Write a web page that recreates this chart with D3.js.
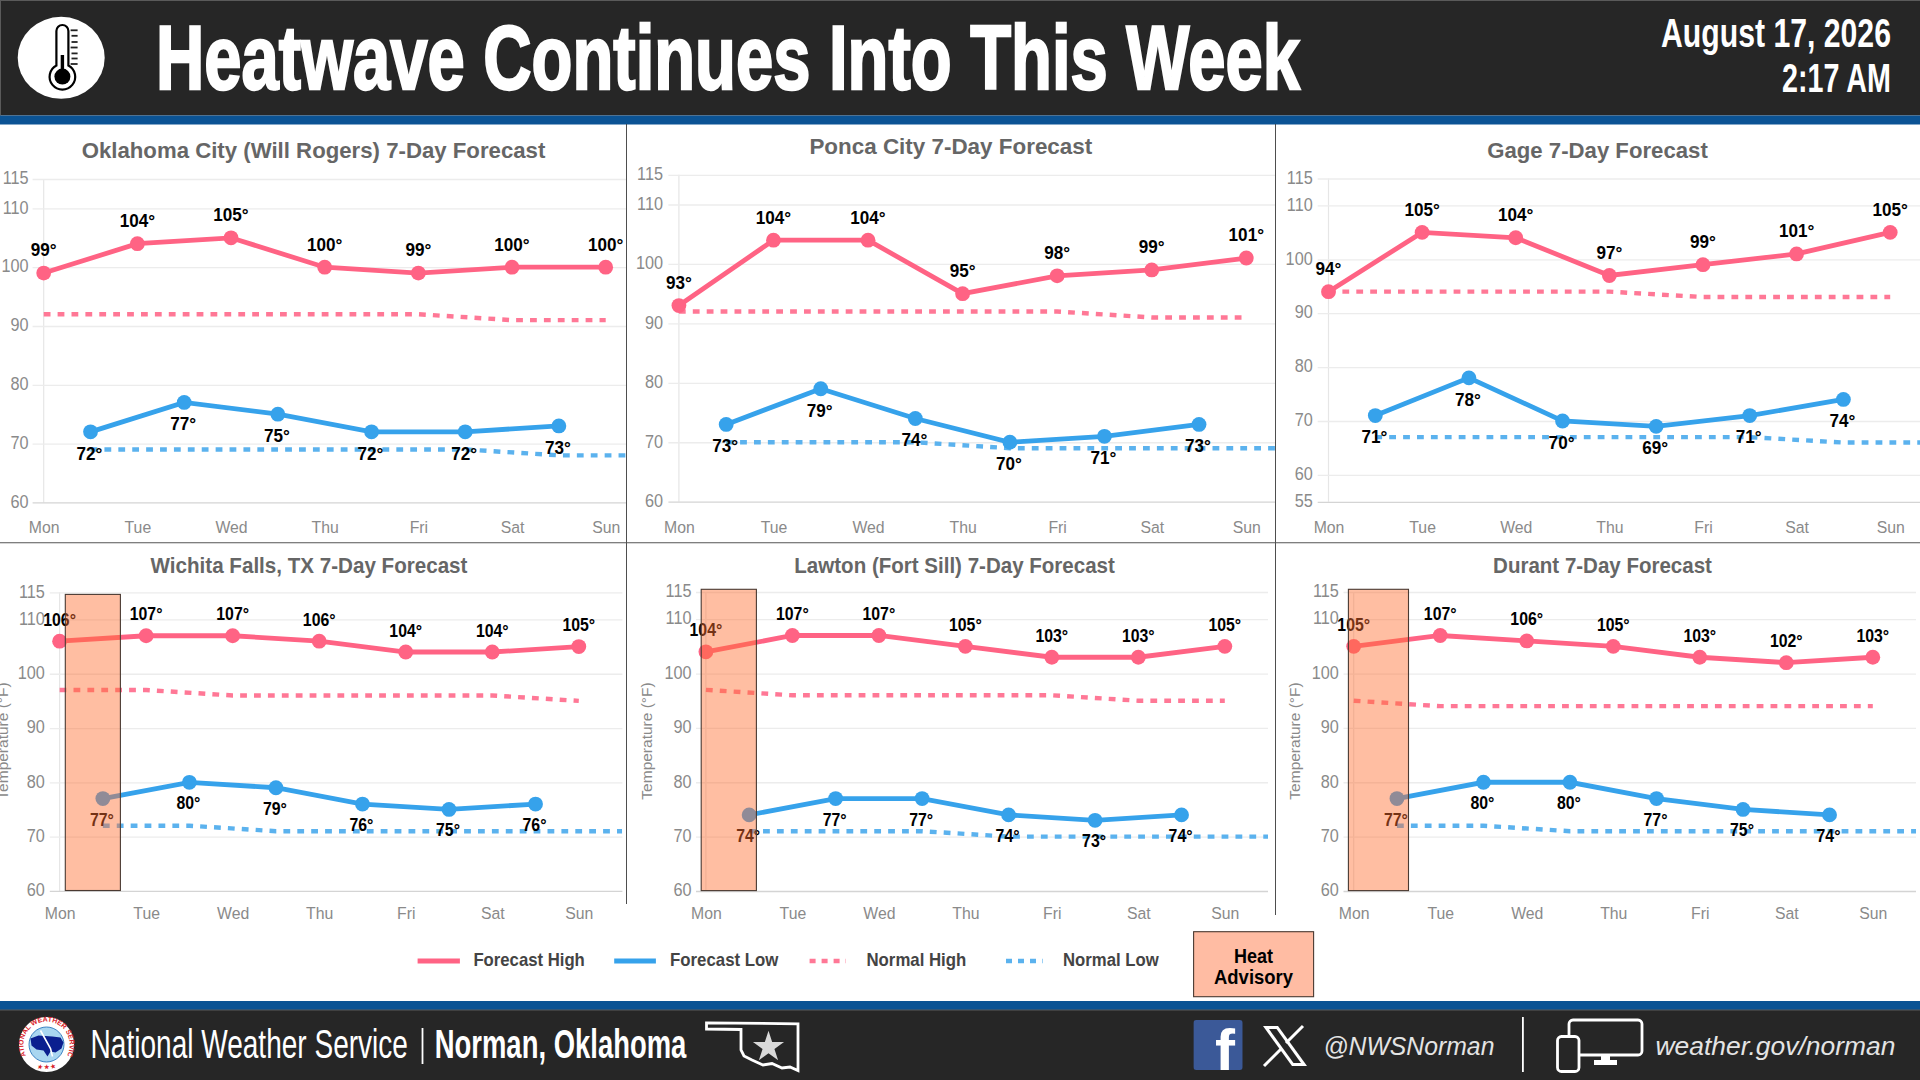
<!DOCTYPE html>
<html>
<head>
<meta charset="utf-8">
<script src="https://cdn.jsdelivr.net/npm/d3@7"></script>
<style>
html,body{margin:0;padding:0;background:#fff;overflow:hidden}
svg{display:block}
text{font-family:"Liberation Sans",Arial,sans-serif}
</style>
</head>
<body>
<svg id="c" width="1920" height="1080"></svg>
<script>
// ---------- data ----------
const days = ["Mon","Tue","Wed","Thu","Fri","Sat","Sun"];
const cities = [
  "Oklahoma City (Will Rogers) 7-Day Forecast",
  "Ponca City 7-Day Forecast",
  "Gage 7-Day Forecast",
  "Wichita Falls, TX 7-Day Forecast",
  "Lawton (Fort Sill) 7-Day Forecast",
  "Durant 7-Day Forecast"
];
const forecastHighs = [
  [99,104,105,100,99,100,100],
  [93,104,104,95,98,99,101],
  [94,105,104,97,99,101,105],
  [106,107,107,106,104,104,105],
  [104,107,107,105,103,103,105],
  [105,107,106,105,103,102,103]
];
const forecastLows = [
  [72,77,75,72,72,73],
  [73,79,74,70,71,73],
  [71,78,70,69,71,74],
  [77,80,79,76,75,76],
  [74,77,77,74,73,74],
  [77,80,80,77,75,74]
];
const normalHighs = [
  [92,92,92,92,92,91,91],
  [92,92,92,92,92,91,91],
  [94,94,94,94,93,93,93],
  [97,97,96,96,96,96,95],
  [97,96,96,96,96,95,95],
  [95,94,94,94,94,94,94]
];
const normalLows = [
  [69,69,69,69,69,68,68],
  [70,70,70,69,69,69,69],
  [67,67,67,67,67,66,66],
  [72,72,71,71,71,71,71],
  [71,71,71,70,70,70,70],
  [72,72,71,71,71,71,71]
];
const yTicksByPanel = [
  [60,70,80,90,100,110,115],
  [60,70,80,90,100,110,115],
  [55,60,70,80,90,100,110,115],
  [60,70,80,90,100,110,115],
  [60,70,80,90,100,110,115],
  [60,70,80,90,100,110,115]
];
const legendNames = ["Forecast High","Forecast Low","Normal High","Normal Low"];

// ---------- layout ----------
const HIGH="rgb(255,99,132)", LOW="rgb(54,162,235)";
const layout = [
 {x0:43.7, x1:605.7, clipL:0, clipR:626, yb:502.4, yt:179, dMin:60, tickL:32.6, labR:28.6, gridR:626, tx:313.5, tw:464, ty:149.5, xy:526.5, up:-23.5, dn:21, lf:19, k:0.9},
 {x0:678.9,x1:1246.3,clipL:627,clipR:1275,yb:501.7,yt:174.8,dMin:60, tickL:668.4,labR:663, gridR:1275,tx:950.8,tw:283,ty:145.5, xy:526.5, up:-23.5, dn:21, lf:19, k:0.9},
 {x0:1328.5,x1:1890.2,clipL:1276,clipR:1920,yb:501.8,yt:178.5,dMin:55,tickL:1317.7,labR:1312.7,gridR:1920,tx:1597.5,tw:220.6,ty:149.5,xy:526.5, up:-23.5, dn:21, lf:19, k:0.9},
 {x0:59.6, x1:578.8, clipL:0, clipR:622.4, yb:890.9, yt:592.3, dMin:60, tickL:49.8, labR:44.9, gridR:622.4, tx:309, tw:317, ty:565, xy:913, up:-22, dn:20.5, lf:18, k:0.88, heat:[65.3,120.4,594.4], tempX:2},
 {x0:705.9,x1:1224.8,clipL:627,clipR:1268,yb:891,yt:592,dMin:60, tickL:696,labR:691.5,gridR:1268,tx:954.6,tw:320.7,ty:565,xy:913, up:-22, dn:20.5, lf:18, k:0.88, heat:[701.2,756.4,589.3], tempX:646},
 {x0:1353.7,x1:1872.8,clipL:1276,clipR:1916,yb:891,yt:592,dMin:60, tickL:1343.5,labR:1338.8,gridR:1916,tx:1602.5,tw:219,ty:565,xy:913, up:-22, dn:20.5, lf:18, k:0.88, heat:[1348.4,1408.5,589.3], tempX:1294}
];

const svg = d3.select("#c");
const defs = svg.append("defs");

// squeeze a text horizontally so it spans exactly w pixels, anchored at x
function fit(sel,x,w){
  const n = sel.node().getComputedTextLength();
  sel.attr("x",0).attr("transform",`translate(${x},0) scale(${w/n},1)`);
  return sel;
}

// ---------- page frames ----------
svg.append("rect").attr("width",1920).attr("height",1080).attr("fill","#fff");
svg.append("rect").attr("width",1920).attr("height",115.5).attr("fill","#262626");
svg.append("rect").attr("width",1920).attr("height",1).attr("fill","#5a5a5a");
svg.append("rect").attr("width",1).attr("height",115.5).attr("fill","#5a5a5a");
svg.append("rect").attr("y",115.5).attr("width",1920).attr("height",9).attr("fill","#0b5394");
svg.append("rect").attr("y",1001).attr("width",1920).attr("height",9).attr("fill","#0b5394");
svg.append("rect").attr("y",1010).attr("width",1920).attr("height",70).attr("fill","#262626");
svg.append("rect").attr("y",1009.5).attr("width",1920).attr("height",1).attr("fill","#5a5a5a");

// ---------- panels ----------
layout.forEach((p,i)=>{
  const g = svg.append("g").attr("class","panel");
  const x = d3.scalePoint().domain(days).range([p.x0,p.x1]);
  const step = x.step();
  const y = d3.scaleLinear().domain([p.dMin,115]).range([p.yb,p.yt]);
  const xLow = idx => x(days[0]) + step*(idx+0.5);

  // title
  const t = g.append("text").attr("y",p.ty).attr("dy","0.36em")
    .attr("text-anchor","middle").attr("font-size",22.5).attr("font-weight",700).attr("fill","#666").text(cities[i]);
  fit(t,p.tx,p.tw);

  // y axis with grid
  const yAxis = d3.axisLeft(y).tickValues(yTicksByPanel[i]).tickFormat(d3.format("d"));
  const ya = g.append("g").attr("transform",`translate(${p.x0},0)`).call(yAxis);
  ya.select(".domain").attr("d",`M0,${y(115)}V${y(p.dMin)}`).attr("stroke","#e6e6e6").attr("stroke-width",1.2).attr("fill","none");
  ya.selectAll(".tick line").attr("x1",p.tickL-p.x0).attr("x2",p.gridR-p.x0)
    .attr("stroke",d=>d===p.dMin?"#d4d4d4":"#ececec").attr("stroke-width",1.3);
  ya.selectAll(".tick text").attr("x",(p.labR-p.x0)/0.93).attr("transform","scale(0.93,1)").attr("dy","0.27em").attr("font-size",17.5)
    .attr("fill","#8a8a8a").attr("font-family",'"Liberation Sans",Arial,sans-serif');

  // x axis labels
  const xAxis = d3.axisBottom(x).tickSize(0);
  const xa = g.append("g").attr("transform",`translate(0,${p.xy})`).call(xAxis);
  xa.select(".domain").remove();
  xa.selectAll(".tick text").attr("y",0).attr("dy","0.36em").attr("font-size",17).attr("transform","scale(0.93,1)")
    .attr("fill","#8a8a8a").attr("font-family",'"Liberation Sans",Arial,sans-serif');

  if(p.tempX!==undefined){
    g.append("text").attr("transform",`translate(${p.tempX},741) rotate(-90)`).attr("dy","0.36em")
      .attr("text-anchor","middle").attr("font-size",15.5).attr("fill","#8a8a8a").text("Temperature (°F)");
  }

  // clip
  const cid="clip"+i;
  defs.append("clipPath").attr("id",cid).append("rect")
    .attr("x",p.clipL).attr("y",100).attr("width",p.clipR-p.clipL).attr("height",900);
  const m = g.append("g").attr("clip-path",`url(#${cid})`);

  const lineHigh = d3.line().x((d,k)=>x(days[k])).y(d=>y(d));
  const lineLow = d3.line().x((d,k)=>xLow(k)).y(d=>y(d));

  m.append("path").attr("d",lineHigh(normalHighs[i])).attr("fill","none").attr("stroke","#ff7896")
    .attr("stroke-width",4.4).attr("stroke-dasharray","6.8,7.1");
  m.append("path").attr("d",lineLow(normalLows[i])).attr("fill","none").attr("stroke","#5bb2ee")
    .attr("stroke-width",4.4).attr("stroke-dasharray","6.8,7.1");

  m.append("path").attr("d",lineHigh(forecastHighs[i])).attr("fill","none").attr("stroke",HIGH).attr("stroke-width",4.8);
  m.append("path").attr("d",lineLow(forecastLows[i])).attr("fill","none").attr("stroke",LOW).attr("stroke-width",4.8);

  m.selectAll(".ph").data(forecastHighs[i]).join("circle").attr("class","ph")
    .attr("cx",(d,k)=>x(days[k])).attr("cy",d=>y(d)).attr("r",7.4).attr("fill",HIGH);
  m.selectAll(".pl").data(forecastLows[i]).join("circle").attr("class","pl")
    .attr("cx",(d,k)=>xLow(k)).attr("cy",d=>y(d)).attr("r",7.4).attr("fill",LOW);

  g.selectAll(".lh").data(forecastHighs[i]).join("text").attr("class","lh")
    .attr("transform",(d,k)=>`translate(${x(days[k])},${y(d)+p.up}) scale(${p.k},1)`).attr("dy","0.36em")
    .attr("text-anchor","middle").attr("font-size",p.lf).attr("font-weight",700).attr("fill","#000")
    .text(d=>d+"°");
  g.selectAll(".ll").data(forecastLows[i]).join("text").attr("class","ll")
    .attr("transform",(d,k)=>`translate(${xLow(k)-1},${y(d)+p.dn}) scale(${p.k},1)`).attr("dy","0.36em")
    .attr("text-anchor","middle").attr("font-size",p.lf).attr("font-weight",700).attr("fill","#000")
    .text(d=>d+"°");

  // heat advisory box
  if(p.heat){
    g.append("rect").attr("x",p.heat[0]).attr("y",p.heat[2])
      .attr("width",p.heat[1]-p.heat[0]).attr("height",y(60)-p.heat[2]-0.4)
      .attr("fill","rgb(255,111,49)").attr("fill-opacity",0.45).attr("stroke","none");
    g.append("rect").attr("x",p.heat[0]).attr("y",p.heat[2])
      .attr("width",p.heat[1]-p.heat[0]).attr("height",y(60)-p.heat[2]-0.4)
      .attr("fill","none").attr("stroke","#4a3a32").attr("stroke-width",1.1);
  }
});

// dividers
const divs=[[626.5,124,904],[1275.5,124,915]];
divs.forEach(d=>svg.append("line").attr("x1",d[0]).attr("x2",d[0]).attr("y1",d[1]).attr("y2",d[2]).attr("stroke","#3a3a3a").attr("stroke-width",0.9));
svg.append("line").attr("x1",0).attr("x2",1920).attr("y1",542.7).attr("y2",542.7).attr("stroke","#555").attr("stroke-width",1.1);

// ---------- legend ----------
const legendLay=[
 {lx:[417.6,459.9],tx:473.4,tw:111.5,c:HIGH,dash:null},
 {lx:[614.2,655.9],tx:670,tw:108.5,c:LOW,dash:null},
 {lx:[809.6,846],tx:866.5,tw:99.8,c:"#ff7896",dash:"6,6"},
 {lx:[1006,1042.6],tx:1063,tw:95.8,c:"#5bb2ee",dash:"6,6"}
];
legendNames.forEach((n,i)=>{
  const l=legendLay[i];
  svg.append("line").attr("x1",l.lx[0]).attr("x2",l.lx[1]).attr("y1",961).attr("y2",961)
    .attr("stroke",l.c).attr("stroke-width",l.dash?4.4:4.8).attr("stroke-dasharray",l.dash);
  const t=svg.append("text").attr("y",960).attr("dy","0.36em").attr("font-size",18).attr("font-weight",700)
    .attr("fill","#444").text(n);
  fit(t,l.tx,l.tw);
});
svg.append("rect").attr("x",1193.6).attr("y",931.7).attr("width",120).attr("height",65)
  .attr("fill","#ffbca3").attr("stroke","#4a3a32").attr("stroke-width",1.1);
fit(svg.append("text").attr("y",955.5).attr("dy","0.36em").attr("text-anchor","middle")
  .attr("font-size",20).attr("font-weight",700).attr("fill","#000").text("Heat"),1253.5,39);
fit(svg.append("text").attr("y",977).attr("dy","0.36em").attr("text-anchor","middle")
  .attr("font-size",20).attr("font-weight",700).attr("fill","#000").text("Advisory"),1253.5,79);

// ---------- header ----------
const NARROW='"Liberation Sans Narrow","Liberation Sans",Arial,sans-serif';
fit(svg.append("text").attr("y",89).attr("font-family",NARROW).attr("font-weight",700)
  .attr("font-size",90).attr("fill","#fff").attr("stroke","#fff").attr("stroke-width",2.4)
  .text("Heatwave Continues Into This Week"),156,1144);
fit(svg.append("text").attr("y",46.7).attr("font-family",NARROW).attr("font-weight",700)
  .attr("font-size",41).attr("fill","#fff").text("August 17, 2026"),1661,230);
fit(svg.append("text").attr("y",92.3).attr("font-family",NARROW).attr("font-weight",700)
  .attr("font-size",41).attr("fill","#fff").text("2:17 AM"),1782,109);

// thermometer icon
const ic=svg.append("g");
ic.append("ellipse").attr("cx",61.2).attr("cy",57.8).attr("rx",43.5).attr("ry",41).attr("fill","#fff");
ic.append("path").attr("d","M56.4,31 a6,6 0 0 1 12,0 V65.5 a12.8,12.8 0 1 1 -12,0 Z")
  .attr("fill","#fff").attr("stroke","#000").attr("stroke-width",2.2);
ic.append("circle").attr("cx",62.4).attr("cy",76.6).attr("r",8).attr("fill","#000");
ic.append("rect").attr("x",60.7).attr("y",55).attr("width",3.4).attr("height",18).attr("fill","#000");
[30.3,35.8,42,47.5,53.4,58.5,64].forEach((t,i)=>ic.append("line")
  .attr("x1",i%3===0?70.6:71.5).attr("x2",77.6).attr("y1",t).attr("y2",t).attr("stroke","#222").attr("stroke-width",1.8));

// ---------- footer ----------
fit(svg.append("text").attr("y",1058).attr("font-family",NARROW).attr("font-size",40).attr("fill","#fff")
  .text("National Weather Service"),90.6,317.4);
svg.append("rect").attr("x",421.6).attr("y",1028).attr("width",1.8).attr("height",36).attr("fill","#fff");
fit(svg.append("text").attr("y",1058).attr("font-family",NARROW).attr("font-weight",700).attr("font-size",40).attr("fill","#fff")
  .text("Norman, Oklahoma"),434.7,251.7);

// NWS seal
const seal=svg.append("g").attr("transform","translate(46.5,1044.5)");
seal.append("circle").attr("r",27.5).attr("fill","#fff");
seal.append("circle").attr("r",17.5).attr("fill","#a9d6f0").attr("stroke","#3b83c4").attr("stroke-width",1);
seal.append("path").attr("d","M-16,-6 L-8,-9 L6,-8 L14,-7 L17,-2 L15,4 L9,8 L4,7 L1,12 L-3,6 L-10,5 L-15,1 Z").attr("fill","#0a1f8f");
seal.append("path").attr("d","M-6,-14 L4,4 L6,12").attr("fill","none").attr("stroke","#fff").attr("stroke-width",1.6);
defs.append("path").attr("id","sealArc").attr("d","M-20,12 A23.2,23.2 0 1 1 20,12");
seal.append("text").attr("font-size",7).attr("font-weight",700).attr("fill","#d8232a")
  .append("textPath").attr("href","#sealArc").attr("startOffset","50%").attr("text-anchor","middle").text("NATIONAL WEATHER SERVICE");
defs.append("path").attr("id","sealArc2").attr("d","M-20,14 A24,24 0 0 0 20,14");
seal.append("text").attr("font-size",6).attr("font-weight",700).attr("fill","#d8232a")
  .append("textPath").attr("href","#sealArc2").attr("startOffset","50%").attr("text-anchor","middle").text("★ ★ ★");

// Oklahoma outline
svg.append("path").attr("d","M706.5,1022.8 L798,1023.8 L798,1070.5 L790,1067 L782,1068 L772,1063.5 L763,1065 L752,1060 L744,1056 L741,1050 L741,1029.5 L706.5,1029 Z")
  .attr("fill","none").attr("stroke","#fff").attr("stroke-width",2.8).attr("stroke-linejoin","miter");
svg.append("path").attr("d",d3.symbol().type(d3.symbolStar).size(300)()).attr("transform","translate(768.5,1047)").attr("fill","#d9d9d9");

// Facebook
defs.append("clipPath").attr("id","fb").append("rect").attr("x",1193.4).attr("y",1020).attr("width",49.3).attr("height",50).attr("rx",3);
const fb=svg.append("g").attr("clip-path","url(#fb)");
fb.append("rect").attr("x",1193.4).attr("y",1020).attr("width",49.3).attr("height",50).attr("fill","#3b5998");
fb.append("text").attr("x",1225).attr("y",1071).attr("text-anchor","middle").attr("font-size",60).attr("font-weight",700).attr("fill","#fff").text("f");

// X
svg.append("path").attr("d","M1263,1026 L1278,1026 L1307,1066 L1292,1066 Z").attr("fill","#fff");
svg.append("path").attr("d","M1269,1029 L1276.5,1029 L1301,1063 L1293.5,1063 Z").attr("fill","#262626");
svg.append("path").attr("d","M1303,1026 L1286,1043 M1281,1049 L1264,1066").attr("stroke","#fff").attr("stroke-width",3).attr("fill","none");

fit(svg.append("text").attr("y",1055).attr("font-family",'Lato,"Open Sans",sans-serif').attr("font-style","italic").attr("font-weight",300)
  .attr("font-size",26).attr("fill","#e4e4e4").text("@NWSNorman"),1323.5,171);
svg.append("rect").attr("x",1522).attr("y",1017).attr("width",1.8).attr("height",55).attr("fill","#fff");

// devices
svg.append("path").attr("d","M1569,1035 V1024 a4,4 0 0 1 4,-4 H1638 a4,4 0 0 1 4,4 V1051 a4,4 0 0 1 -4,4 H1580")
  .attr("fill","none").attr("stroke","#fff").attr("stroke-width",2.8);
svg.append("rect").attr("x",1594).attr("y",1060).attr("width",23).attr("height",5).attr("fill","#fff");
svg.append("rect").attr("x",1601).attr("y",1055).attr("width",9).attr("height",6).attr("fill","#fff");
svg.append("rect").attr("x",1557.5).attr("y",1036.5).attr("width",21.5).attr("height",35).attr("rx",4)
  .attr("fill","none").attr("stroke","#fff").attr("stroke-width",2.8);

fit(svg.append("text").attr("y",1055).attr("font-family",'Lato,"Open Sans",sans-serif').attr("font-style","italic").attr("font-weight",300)
  .attr("font-size",26).attr("fill","#e4e4e4").text("weather.gov/norman"),1655.5,240);
</script>
</body>
</html>
